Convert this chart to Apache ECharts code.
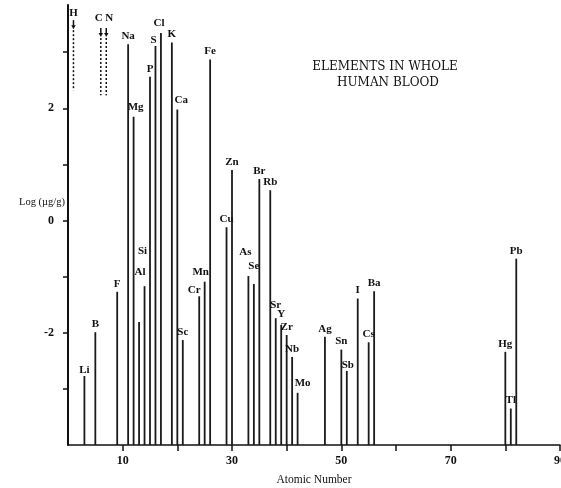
<!DOCTYPE html>
<html><head><meta charset="utf-8">
<script src="https://cdn.jsdelivr.net/npm/echarts@6/dist/echarts.min.js"></script>
<style>html,body{margin:0;padding:0;background:#fff}#c{width:561px;height:488px}</style>
</head><body><div id="c"></div>
<script>
// Data
const elements = ['Li','B','F','Na','Mg','Al','Si','P','S','Cl','K','Ca','Sc','Cr','Mn','Fe','Cu','Zn','As','Se','Br','Rb','Sr','Y','Zr','Nb','Mo','Ag','Sn','Sb','I','Cs','Ba','Hg','Tl','Pb'];
const atomicNumbers = [3,5,9,11,12,13,14,15,16,17,19,20,21,24,25,26,29,30,33,34,35,37,38,39,40,41,42,47,50,51,53,55,56,80,81,82];
const logConc = [-2.77,-1.99,-1.27,3.14,1.85,-1.81,-1.17,2.56,3.11,3.34,3.17,1.98,-2.13,-1.35,-1.09,2.87,-0.12,0.90,-0.99,-1.13,0.74,0.54,-1.74,-1.86,-2.04,-2.43,-3.07,-2.07,-2.30,-2.68,-1.39,-2.17,-1.26,-2.34,-3.35,-0.68];
// Off-scale elements drawn as dashed arrows
const offScaleElements = ['H','C','N'];
const offScaleNumbers = [1,6,7];
const offScaleLow = [2.32,2.23,2.23];
const offScaleHigh = [3.57,3.43,3.43];
// Axis ticks / labels
const xTickValues = [10,20,30,40,50,60,70,80,90];
const xLabelValues = [10,30,50,70,90];
const yTickValues = [-3,-2,-1,0,1,2,3];
const yLabelValues = [-2,0,2];
const yMin = -4, yMax = 3.84;

// label placement tweaks (pixels), styling only
const labelOffsets = {Al:[1,-50],Si:[-2,-35],As:[-3,-24],Se:[0,-18],Sr:[0,-13],Y:[0,-11],Mo:[5,-10],Ca:[4,-9],Cr:[-5,-6],Mn:[-4,-10],Mg:[2,-10],Cl:[-2,-10],S:[-2,-6],Li:[0,-6],Sb:[1,-6],H:[0,-7],C:[-2,-10],N:[3,-10]};
const defaultOffset = [0,-8];
const labelFont = 'bold 11px "Liberation Serif", serif';

const chart = echarts.init(document.getElementById('c'), null, {renderer:'canvas'});
const serif = '"Liberation Serif", serif';
chart.setOption({
  animation:false,
  backgroundColor:'#fff',
  grid:{left:68,right:1,top:5,bottom:43,containLabel:false,outerBoundsMode:'none'},
  xAxis:{type:'value',min:0,max:90,
    axisLine:{show:true,onZero:false,lineStyle:{color:'#111',width:1.5}},
    axisTick:{show:true,inside:false,length:6,customValues:xTickValues,lineStyle:{color:'#111',width:1.5}},
    axisLabel:{show:true,customValues:xLabelValues,margin:10,color:'#111',fontFamily:serif,fontSize:12,fontWeight:'bold'},
    splitLine:{show:false},
    name:'Atomic Number',nameLocation:'middle',nameGap:29,
    nameTextStyle:{fontFamily:serif,fontSize:11.5,color:'#111'}
  },
  yAxis:{type:'value',min:yMin,max:yMax,
    axisLine:{show:true,onZero:false,lineStyle:{color:'#111',width:2}},
    axisTick:{show:true,inside:false,length:5,customValues:yTickValues,lineStyle:{color:'#111',width:1.5}},
    axisLabel:{show:true,customValues:yLabelValues,margin:14,color:'#111',fontFamily:serif,fontSize:12,fontWeight:'bold'},
    splitLine:{show:false}
  },
  graphic:[
    {type:'text',left:19,top:197,style:{text:'Log (\u00b5g/g)',font:'10.5px "Liberation Serif", serif',fill:'#111'}},
    {type:'text',x:385,y:67,style:{text:'ELEMENTS IN WHOLE',font:'12px "DejaVu Serif", serif',fill:'#111',align:'center',verticalAlign:'middle'}},
    {type:'text',x:388,y:83,style:{text:'HUMAN BLOOD',font:'12px "DejaVu Serif", serif',fill:'#111',align:'center',verticalAlign:'middle'}}
  ],
  series:[
    {type:'custom',
     data: atomicNumbers.map((z,i)=>[z,logConc[i]]),
     renderItem:function(params,api){
       const z=api.value(0), v=api.value(1);
       const base=api.coord([z,yMin]);
       const top=api.coord([z,v]);
       const name=elements[params.dataIndex];
       const off=labelOffsets[name]||defaultOffset;
       return {type:'group',children:[
         {type:'line',shape:{x1:base[0],y1:base[1],x2:top[0],y2:top[1]},style:{stroke:'#1a1a1a',lineWidth:1.8}},
         {type:'text',x:top[0]+off[0],y:top[1]+off[1],style:{text:name,font:labelFont,fill:'#111',align:'center',verticalAlign:'middle'}}
       ]};
     }
    },
    {type:'custom',
     data: offScaleNumbers.map((z,i)=>[z,offScaleLow[i],offScaleHigh[i]]),
     renderItem:function(params,api){
       const z=api.value(0);
       const lo=api.coord([z,api.value(1)]);
       const hi=api.coord([z,api.value(2)]);
       const name=offScaleElements[params.dataIndex];
       const off=labelOffsets[name]||defaultOffset;
       const x=hi[0];
       return {type:'group',children:[
         {type:'line',shape:{x1:x,y1:hi[1],x2:x,y2:hi[1]+6},style:{stroke:'#111',lineWidth:1.5}},
         {type:'polygon',shape:{points:[[x-2.2,hi[1]+5],[x+2.2,hi[1]+5],[x,hi[1]+9]]},style:{fill:'#111'}},
         {type:'line',shape:{x1:x,y1:hi[1]+10,x2:x,y2:lo[1]},style:{stroke:'#111',lineWidth:1.5,lineDash:[2,2]}},
         {type:'text',x:x+off[0],y:hi[1]+off[1],style:{text:name,font:labelFont,fill:'#111',align:'center',verticalAlign:'middle'}}
       ]};
     }
    }
  ]
});
</script>
</body></html>
